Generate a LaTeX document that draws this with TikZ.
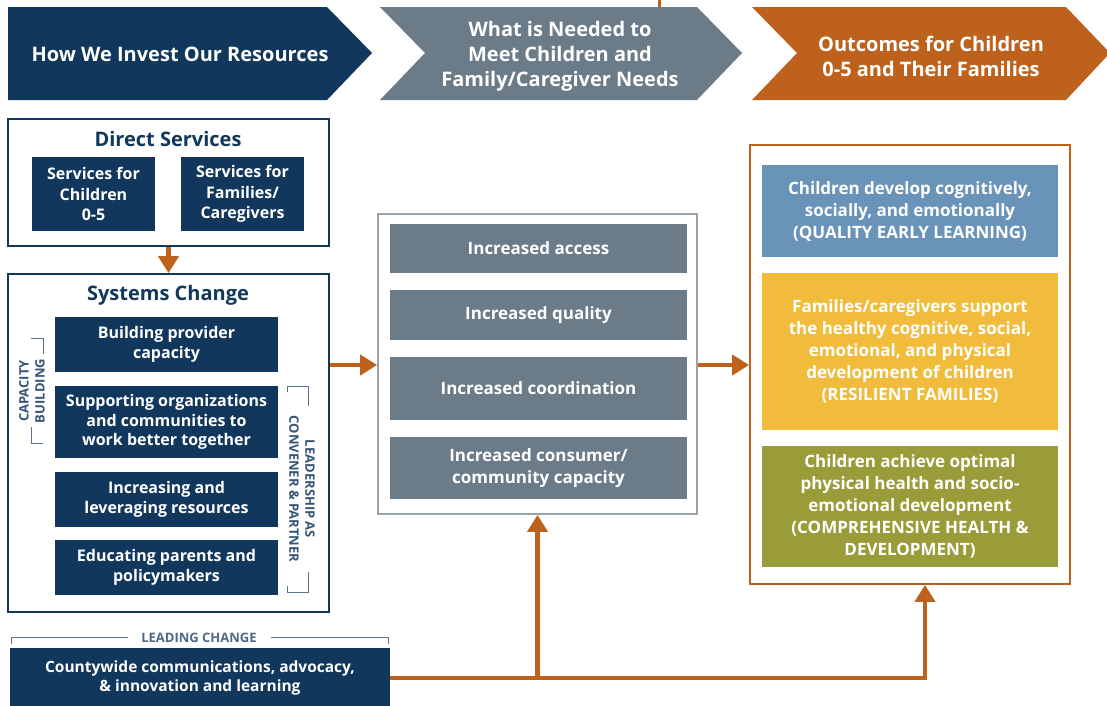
\documentclass[tikz,border=0pt]{standalone}
\usepackage{fontspec}
\setmainfont{Open Sans}
\usetikzlibrary{arrows.meta}

\definecolor{navy}{HTML}{12375D}
\definecolor{slate}{HTML}{6B7B88}
\definecolor{rust}{HTML}{BE611C}
\definecolor{skyblue}{HTML}{6A93B9}
\definecolor{gold}{HTML}{F1BC3B}
\definecolor{olive}{HTML}{9A9C3A}

\tikzset{
	wh/.style 2 args={minimum width=#1pt, minimum height=#2pt},
	cell/.style={inner sep=0pt, align=center, text=white, font=\bfseries\fontsize{16}{19.5}\selectfont},
	navycell/.style={cell, fill=navy},
	slatecell/.style={cell, fill=slate, font=\bfseries\fontsize{17}{22}\selectfont},
	goalcell/.style={cell, font=\bfseries\fontsize{17}{22}\selectfont},
	headtext/.style={text=white, align=center, inner sep=0pt, font=\bfseries\fontsize{20}{25}\selectfont},
	titletext/.style={text=navy, inner sep=0pt, font=\bfseries\fontsize{20}{24}\selectfont},
	panel/.style={fill=white, line width=1.8pt, inner sep=0pt},
	flow/.style={rust, line width=4.5pt, -{Triangle[width=20pt,length=17pt]}},
	sidelabel/.style={text=navy!85, align=center, inner sep=0pt, font=\bfseries\fontsize{13}{16}\selectfont},
	brk/.style={navy!70, line width=1pt},
}

\begin{document}
\begin{tikzpicture}[x=1pt, y=-1pt]
	%%%%% START %%%%%
	\useasboundingbox[fill=white] (0,0) rectangle (1107,705);
	
	\draw[rust, line width=3pt] (659,0) -- (659,8);
	
	\fill[navy] (8,7) -- (327,7) -- (372,53) -- (327,100) -- (8,100) -- cycle;
	\node[headtext] (invest) at (180,54) {How We Invest Our Resources};
	
	\fill[slate] (380,7) -- (697,7) -- (742,53) -- (697,100) -- (380,100) -- (425,53) -- cycle;
	\node[headtext] (needed) at (560,56) {What is Needed to\\Meet Children and\\Family/Caregiver Needs};
	
	\fill[rust] (752,7) -- (1066,7) -- (1110,53) -- (1066,100) -- (752,100) -- (797,53) -- cycle;
	\node[headtext] (outcomes) at (931,56) {Outcomes for Children\\0-5 and Their Families};
	
	%%%%% DIRECT SERVICES %%%%%
	\node[panel, draw=navy, wh={321}{127}] (direct) at (168.5,182.5) {};
	\node[titletext] (directtitle) at (168,139) {Direct Services};
	\node[navycell, wh={123}{74}, font=\bfseries\fontsize{16}{20.5}\selectfont] (kids) at (93.5,194) {Services for\\Children\\0-5};
	\node[navycell, wh={123}{74}, font=\bfseries\fontsize{16}{20.5}\selectfont] (families) at (242.5,194) {Services for\\Families/\\Caregivers};
	
	%%%%% SYSTEMS CHANGE %%%%%
	\node[panel, draw=navy, wh={321}{338}] (systems) at (168.5,443) {};
	\node[titletext] (systemstitle) at (168,295) {Systems Change};
	\node[navycell, wh={223}{55}] (provider) at (166.5,344.5) {Building provider\\capacity};
	\node[navycell, wh={223}{72}] (supporting) at (166.5,422) {Supporting organizations\\and communities to\\work better together};
	\node[navycell, wh={223}{55}] (leveraging) at (166.5,499.5) {Increasing and\\leveraging resources};
	\node[navycell, wh={223}{55}] (educating) at (166.5,567.5) {Educating parents and\\policymakers};
	
	\node[sidelabel, rotate=90] (capacity) at (32,391) {CAPACITY\\BUILDING};
	\draw[brk] (31,338) -- (43,338) -- (43,354);
	\draw[brk] (31,427) -- (31,443) -- (43,443);
	
	\node[sidelabel, rotate=-90] (leadership) at (302,489) {LEADERSHIP AS\\CONVENER \& PARTNER};
	\draw[brk] (287,392) -- (287,386) -- (308,386) -- (308,406);
	\draw[brk] (308,572) -- (308,592) -- (287,592) -- (287,586);
	
	%%%%% LEADING CHANGE %%%%%
	\node[sidelabel, text=navy!75] (leading) at (199,638) {LEADING CHANGE};
	\draw[brk] (11,644) -- (11,637) -- (128,637);
	\draw[brk] (271,637) -- (388,637) -- (388,644);
	\node[navycell, wh={380}{60}, font=\bfseries\fontsize{15.5}{19.5}\selectfont] (county) at (200,678) {Countywide communications, advocacy,\\\& innovation and learning};
	
	%%%%% WHAT IS NEEDED %%%%%
	\node[panel, draw=slate!70, wh={319}{300}] (needs) at (537.5,364) {};
	\node[slatecell, wh={297}{49}] (access) at (538.5,248.5) {Increased access};
	\node[slatecell, wh={297}{50}] (quality) at (538.5,315) {Increased quality};
	\node[slatecell, wh={297}{63}] (coordination) at (538.5,388.5) {Increased coordination};
	\node[slatecell, wh={297}{62}] (consumer) at (538.5,468) {Increased consumer/\\community capacity};
	
	%%%%% OUTCOMES %%%%%
	\node[panel, draw=rust, wh={320}{439}] (goals) at (910,364.5) {};
	\node[goalcell, fill=skyblue, wh={296}{92}] (learning) at (910,211) {Children develop cognitively,\\socially, and emotionally\\(QUALITY EARLY LEARNING)};
	\node[goalcell, fill=gold, wh={296}{157}] (resilient) at (910,351.5) {Families/caregivers support\\the healthy cognitive, social,\\emotional, and physical\\development of children\\(RESILIENT FAMILIES)};
	\node[goalcell, fill=olive, wh={296}{121}] (health) at (910,506.5) {Children achieve optimal\\physical health and socio-\\emotional development\\(COMPREHENSIVE HEALTH \&\\DEVELOPMENT)};
	
	%%%%% ARROWS %%%%%
	\draw[flow] (direct.south) -- (systems.north);
	\draw[flow] (systems.east |- 0,365) -- (needs.west |- 0,365);
	\draw[flow] (needs.east |- 0,365) -- (goals.west |- 0,365);
	\draw[flow] (county.east) -| ([xshift=15pt]goals.south);
	\draw[flow] (needs.south |- county.east) -- (needs.south);
	
	%%%%% END %%%%%
\end{tikzpicture}
\end{document}
